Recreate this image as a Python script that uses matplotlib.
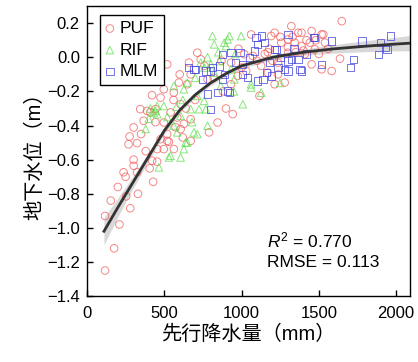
import numpy as np
import matplotlib
matplotlib.use("Agg")
import matplotlib.pyplot as plt

plt.rcParams['font.family'] = ['Liberation Sans', 'Noto Sans CJK SC']
plt.rcParams['mathtext.fontset'] = 'custom'
plt.rcParams['mathtext.rm'] = 'Liberation Sans'
plt.rcParams['mathtext.it'] = 'Liberation Sans:italic'

# PUF (red circles)
puf_x = [117, 176, 117, 154, 210, 254, 280, 237, 302, 302, 324, 406, 428, 421, 454,
         454, 497, 530, 476, 519, 573, 627, 276, 324, 302, 367, 410, 443, 790, 845,
         899, 943, 541, 584, 421, 476, 497, 562, 606, 649, 595, 660, 714, 736, 671,
         780, 932, 975, 932, 1018, 1062, 1073, 1127, 1116, 1171, 1214, 1257, 1236, 1301, 1322,
         1344, 1366, 1388, 1409, 1442, 1529, 1279, 1214, 519, 345, 389, 443, 497, 606, 671,
         519, 671, 562, 1648, 1388, 1453, 1518, 1474, 1540, 1637, 1583, 1518, 1453, 1236, 1301,
         1192, 1000, 1150, 1350, 1420, 1180, 880, 640, 700, 269,
         1250, 1300, 1330, 1400, 1480, 1560, 1170, 1100, 1030, 980, 1200, 1500, 760, 820, 870,
         600, 560, 380, 350, 250, 200, 330, 620]
puf_y = [-1.25, -1.12, -0.93, -0.84, -0.98, -0.815, -0.885, -0.674, -0.60, -0.636, -0.674, -0.651, -0.73, -0.606, -0.612,
         -0.538, -0.538, -0.495, -0.48, -0.45, -0.41, -0.39, -0.464, -0.503, -0.411, -0.372, -0.323, -0.38, -0.44, -0.382,
         -0.30, -0.333, -0.323, -0.353, -0.222, -0.236, -0.187, -0.207, -0.275, -0.158, -0.148, -0.031, 0.027, -0.012, -0.10,
         -0.129, -0.031, -0.109, -0.158, 0.018, 0.134, 0.008, -0.05, -0.226, -0.09, 0.144, 0.086, -0.031, 0.027, 0.183,
         0.086, 0.144, 0.066, 0.018, 0.086, 0.134, -0.148, -0.158, -0.041, -0.304, -0.314, -0.304, -0.382, -0.421, -0.363,
         -0.49, -0.49, -0.538, 0.212, 0.144, 0.154, 0.134, 0.047, 0.086, -0.008, -0.08, -0.07, -0.041, -0.10, 0.105,
         0.125, -0.06, 0.02, 0.03, 0.10, 0.05, -0.20, -0.30, -0.25, -0.51,
         0.12, 0.06, 0.12, 0.04, 0.10, 0.05, 0.03, -0.02, -0.08, 0.05, -0.02, 0.02, -0.05, -0.12, -0.02,
         -0.10, -0.25, -0.55, -0.45, -0.70, -0.76, -0.80, -0.47]

# RIF (green triangles)
rif_x = [530, 606, 649, 692, 780, 1008, 454, 465, 910, 997, 823, 899, 856, 801, 627,
         714, 758, 725, 769, 497, 580, 606, 671, 1062, 1127, 714, 432, 454, 584, 627,
         541, 866, 953, 932, 823, 888, 736, 649, 562, 443, 812, 921, 1062, 638, 380,
         400, 1250, 700, 760, 960, 560, 520, 680, 850, 780, 950, 620, 410]
rif_y = [-0.587, -0.587, -0.499, -0.44, -0.401, -0.275, -0.333, -0.645, 0.105, 0.125, 0.076, 0.066, -0.022, -0.041, -0.187,
         -0.226, -0.255, -0.304, -0.304, -0.285, -0.29, -0.343, -0.304, -0.158, -0.207, -0.45, -0.323, -0.285, -0.44, -0.538,
         -0.577, -0.168, -0.129, -0.07, -0.09, 0.086, -0.031, -0.148, -0.168, -0.314, 0.125, 0.125, -0.177, -0.50, -0.42,
         -0.36, -0.15, -0.12, -0.06, 0.02, -0.40, -0.35, -0.38, 0.03, 0.00, -0.20, -0.25, -0.30]

# MLM (blue squares)
mlm_x = [704, 747, 801, 856, 877, 932, 1008, 1040, 1083, 1127, 1149, 1105, 1160, 1192, 1236,
         1279, 1301, 1366, 1377, 1464, 1518, 845, 910, 801, 1105, 1214, 1301, 692, 769, 812,
         877, 1008, 921, 780, 1094, 1225, 1301, 1388, 1322, 1474, 1583, 1725, 1703, 1779, 1898,
         1887, 1931, 1963, 1941, 1138, 658, 960, 1050, 1180, 1250, 1340, 1420, 990, 890]
mlm_y = [-0.07, -0.129, -0.08, -0.051, 0.018, 0.027, -0.041, -0.119, 0.037, 0.125, 0.086, -0.139, -0.09, -0.11, -0.06,
         -0.07, -0.022, -0.012, -0.07, 0.115, -0.041, -0.207, -0.197, -0.304, 0.076, 0.047, 0.134, -0.07, -0.08, -0.06,
         -0.129, -0.10, -0.207, -0.216, 0.115, 0.047, -0.08, -0.08, -0.012, 0.115, 0.095, -0.012, -0.06, 0.095, 0.086,
         0.018, 0.057, 0.125, 0.047, -0.129, -0.06, -0.03, 0.0, -0.03, 0.00, 0.05, 0.02, 0.03, -0.10]

# fitted curve and confidence band
fit_x = [110, 200, 300, 400, 500, 600, 700, 800, 900, 1000, 1200, 1400, 1600, 1800, 2000, 2090]
fit_y = [-1.02, -0.88, -0.73, -0.58, -0.43, -0.31, -0.22, -0.15, -0.095, -0.05, 0.0, 0.03, 0.05, 0.065, 0.078, 0.083]
band_lo = [-1.10, -0.935, -0.765, -0.605, -0.45, -0.325, -0.235, -0.165, -0.11, -0.065, -0.015, 0.012, 0.025, 0.033, 0.038, 0.038]
band_hi = [-0.94, -0.825, -0.695, -0.555, -0.41, -0.295, -0.205, -0.135, -0.08, -0.035, 0.015, 0.048, 0.075, 0.097, 0.118, 0.128]

r2 = 0.770
rmse = 0.113

fig = plt.figure(figsize=(4.18, 3.62), dpi=100)
ax = fig.add_axes([0.208, 0.182, 0.773, 0.801])

ax.fill_between(fit_x, band_lo, band_hi, color='#c8c8c8', alpha=0.7, lw=0, zorder=1)
ax.scatter(puf_x, puf_y, s=30, marker='o', facecolors='none', edgecolors='#ee5555',
           linewidths=0.7, alpha=0.7, label='PUF', zorder=2)
ax.scatter(rif_x, rif_y, s=30, marker='^', facecolors='none', edgecolors='#55dd44',
           linewidths=0.7, alpha=0.7, label='RIF', zorder=2)
ax.scatter(mlm_x, mlm_y, s=28, marker='s', facecolors='none', edgecolors='#4444dd',
           linewidths=0.7, alpha=0.75, label='MLM', zorder=3)
ax.plot(fit_x, fit_y, color='#333333', lw=2, zorder=4)

ax.set_xlim(0, 2090)
ax.set_ylim(-1.4, 0.3)
ax.set_xticks([0, 500, 1000, 1500, 2000])
ax.set_yticks(np.arange(-1.4, 0.21, 0.2))
ax.tick_params(direction='in', length=4, width=1, labelsize=12)
ax.tick_params(axis='x', pad=7)
ax.tick_params(axis='y', pad=5)
for sp in ax.spines.values():
    sp.set_linewidth(1)

ax.set_xlabel('先行降水量（mm）', fontsize=14.5, labelpad=3)
ax.set_ylabel('地下水位（m）', fontsize=14.5, labelpad=2)

ax.text(0.557, 0.169, r'$R^2$ = %.3f' % r2, transform=ax.transAxes, fontsize=12.5, va='baseline')
ax.text(0.557, 0.100, 'RMSE = %.3f' % rmse, transform=ax.transAxes, fontsize=12.5, va='baseline')

leg = ax.legend(loc='upper left', bbox_to_anchor=(0.04, 0.97), borderaxespad=0,
                fontsize=12.5, handlelength=0.45, handletextpad=0.35, labelspacing=0.37,
                borderpad=0.35, fancybox=False, framealpha=1, edgecolor='black')
leg.get_frame().set_linewidth(1)

fig.savefig('out.png', dpi=100)
